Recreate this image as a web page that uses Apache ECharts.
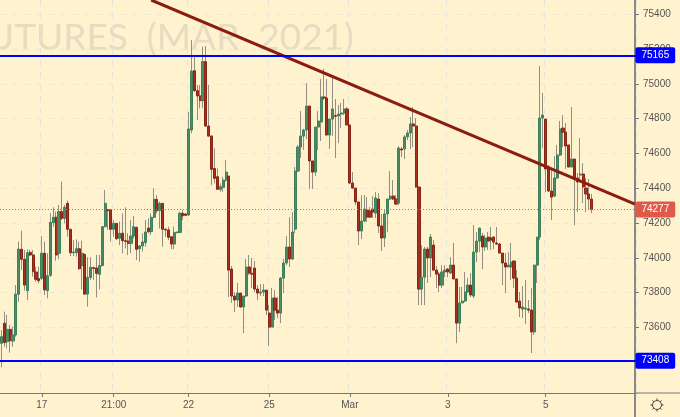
<!DOCTYPE html>
<html>
<head>
<meta charset="utf-8">
<style>html,body{margin:0;padding:0;background:#fff2cf}#c{width:680px;height:417px}</style>
<script src="https://cdn.jsdelivr.net/npm/echarts@6/dist/echarts.min.js"></script>
</head>
<body>
<div id="c"></div>
<script>
const opens = [73508,73623,73517,73588,73521,73556,73790,74049,73991,73811,74031,74016,73918,73880,73882,74026,73811,73899,74202,74233,74026,74265,74227,74313,74164,74029,74029,74052,73955,74020,73791,73887,73943,73941,73905,73955,74179,74277,74275,74164,74198,74112,74141,74098,74096,74083,74125,74175,74052,74068,74087,74171,74150,74233,74336,74271,74313,74164,74160,74121,74079,74144,74146,74256,74252,74246,74735,75076,74961,74931,74904,75128,74758,74700,74514,74466,74394,74405,74447,74470,73935,73780,73757,73797,73717,73780,73947,73910,73941,73820,73797,73803,73814,73682,73601,73768,73699,73682,73883,73970,74062,73993,74165,74499,74637,74700,74735,74873,74557,74493,74752,74781,74925,74919,74706,74798,74818,74816,74827,74833,74856,74764,74430,74401,74321,74154,74211,74275,74269,74280,74257,74338,74183,74114,74252,74338,74355,74338,74315,74626,74626,74695,74718,74770,74758,74407,73820,73889,74050,73999,74073,73929,73906,73843,73918,73935,73912,73958,73878,73624,73740,73751,73803,73843,73780,74033,74096,74125,74062,74119,74114,74119,74085,74079,74027,73970,73947,73947,73981,73883,73751,73705,73705,73705,73699,73573,73958,74119,74804,74798,74522,74384,74355,74459,74591,74746,74723,74649,74522,74568,74459,74476,74482,74401,74367,74338];
const closes = [73546,73512,73588,73523,73556,73790,74050,73991,73843,74029,74016,73920,73876,73868,74026,73815,73897,74204,74233,74016,74265,74227,74290,74164,74029,74033,74052,73937,74026,73791,73887,73945,73939,73910,73955,74179,74313,74271,74164,74198,74110,74141,74098,74094,74083,74125,74179,74049,74068,74091,74148,74150,74233,74336,74271,74313,74164,74160,74118,74079,74146,74148,74256,74242,74244,74741,75074,74961,74931,74904,75128,74758,74700,74509,74457,74394,74409,74447,74493,73929,73780,73757,73797,73717,73780,73947,73912,73906,73820,73797,73803,73814,73699,73601,73768,73699,73682,73883,73970,74062,73993,74148,74499,74637,74700,74735,74873,74557,74493,74752,74787,74925,74919,74706,74798,74856,74814,74827,74833,74856,74764,74430,74401,74321,74154,74211,74280,74234,74234,74263,74344,74183,74114,74252,74338,74355,74338,74309,74631,74620,74695,74718,74770,74758,74407,73820,73889,74050,73999,74119,73929,73906,73843,73918,73929,73918,73958,73878,73624,73740,73751,73803,73843,73786,74033,74096,74171,74062,74114,74096,74102,74090,74079,74027,73970,73947,73958,73975,73883,73745,73711,73717,73711,73699,73573,73958,74119,74804,74821,74511,74384,74349,74459,74591,74741,74723,74643,74522,74568,74453,74436,74482,74407,74367,74338,74277];
const lows = [73370,73488,73479,73454,73488,73546,73747,73930,73811,73757,74010,73891,73862,73853,73872,73786,73767,73891,74179,73983,73991,74217,74198,74121,74010,74010,74006,73930,73818,73786,73719,73872,73872,73772,73818,73949,74175,74160,74093,74121,74102,74073,74026,74054,74016,74026,74112,73987,73978,74035,74064,74141,74131,74227,74256,74169,74064,74121,74102,74049,74049,74141,74141,74217,74240,74240,74716,74955,74793,74860,74860,74754,74697,74419,74428,74390,74380,74380,74438,73774,73740,73688,73717,73711,73567,73774,73901,73826,73803,73757,73780,73780,73670,73492,73601,73642,73653,73624,73797,73958,73947,73987,74142,74493,74574,74620,74683,74396,74396,74470,74620,74672,74908,74706,74626,74700,74574,74660,74746,74821,74764,74425,74396,74303,74073,74108,74206,74206,74234,74229,74229,74142,74039,74062,74148,74332,74332,74303,74303,74580,74568,74677,74626,74637,74401,73728,73728,73728,73855,73889,73929,73826,73803,73826,73889,73889,73912,73878,73509,73573,73740,73745,73797,73774,73768,73975,74033,73935,74039,74044,74044,74050,74073,74027,73843,73797,73947,73872,73826,73745,73659,73653,73619,73682,73452,73556,73855,74102,74631,74378,74378,74217,74349,74453,74585,74637,74511,74522,74522,74188,74263,74436,74315,74263,74280,74257];
const highs = [73584,73690,73671,73613,73604,73843,74093,74156,74045,74049,74045,74045,73949,73949,74125,74093,74026,74256,74290,74265,74304,74438,74304,74329,74164,74102,74106,74093,74098,74020,74003,74003,73949,74016,74016,74179,74390,74279,74275,74217,74198,74208,74256,74290,74141,74217,74240,74179,74073,74141,74217,74227,74256,74400,74361,74323,74313,74169,74179,74121,74179,74150,74265,74275,74256,74839,75253,75163,74994,74994,75215,75218,74994,74706,74630,74514,74428,74466,74562,74470,73952,73803,73855,73797,73780,73993,74016,73999,73981,73843,73849,73849,73814,73728,73826,73814,73774,73889,73993,74125,74234,74263,74522,74649,74844,74741,75005,74873,74557,74752,74844,75028,75086,75028,74798,75046,74913,74879,74890,74913,74867,74764,74493,74401,74321,74361,74361,74349,74292,74355,74378,74372,74252,74275,74338,74499,74447,74361,74643,74637,74706,74735,74810,74867,74804,74407,74073,74062,74062,74137,74102,73952,73918,73958,73958,73941,74004,74085,73878,73832,73832,73918,73883,73912,74188,74148,74171,74142,74131,74148,74177,74125,74177,74085,74027,74027,74033,74085,73987,73929,73803,73837,73872,73757,73826,73958,74119,75103,74948,74798,74534,74511,74585,74649,74787,74821,74775,74649,74867,74568,74488,74689,74545,74459,74453,74367];

const tickSlots = [14,39,65,93,121,155,189];
const tickLabels = ['17','21:00','22','25','Mar','3','5'];
const priceTicks = [73600,73800,74000,74200,74400,74600,74800,75000,75200,75400];
const levelPrices = [75165,73408];
const lastPrice = [74277];
const trendPrices = [75483,74309];
const trendSlots = [52,220];
const slotCount = 221;
const watermark = 'FUTURES  (MAR  2021)';

const categories = [];
for (let i = 0; i < slotCount; i++) {
  const t = tickSlots.indexOf(i);
  categories.push(t >= 0 ? tickLabels[t] : 'b' + i);
}
const isTick = i => tickSlots.indexOf(i) >= 0;
const n = closes.length;
const wicks = [], bodies = [];
for (let i = 0; i < n; i++) {
  wicks.push([opens[i], closes[i], lows[i], highs[i]]);
  bodies.push([opens[i], closes[i], Math.min(opens[i], closes[i]), Math.max(opens[i], closes[i])]);
}
const font = '"Liberation Sans", Arial, sans-serif';
const wickGrey = 'rgba(90,90,90,0.66)';
const blueLabel = v => ({
  show: true, position: 'end', distance: -1, formatter: String(v),
  color: '#fff', backgroundColor: '#0000ff', fontFamily: font, fontSize: 10,
  padding: [3, 6, 3, 6], borderRadius: 2
});
const gearLine = (x1, y1, x2, y2) => ({type: 'line', z: 10, silent: true, shape: {x1, y1, x2, y2}, style: {stroke: '#444', lineWidth: 1}});
const chart = echarts.init(document.getElementById('c'), null, {renderer: 'canvas'});
chart.setOption({
  animation: false,
  backgroundColor: '#fff2cf',
  grid: {left: -1.2, top: 0, width: 637.6, height: 393, containLabel: false},
  xAxis: {
    type: 'category', data: categories, boundaryGap: true,
    axisLine: {lineStyle: {color: '#787878', width: 1}},
    axisTick: {show: true, alignWithLabel: true, length: 4, interval: isTick, lineStyle: {color: '#787878'}},
    axisLabel: {interval: isTick, color: '#555', fontFamily: font, fontSize: 10, margin: 7},
    splitLine: {show: true, interval: isTick, lineStyle: {color: '#e4e6dc', type: [6, 6], width: 1}}
  },
  yAxis: {
    type: 'value', position: 'right', offset: -1.4, min: 73222, max: 75483, scale: true,
    axisLine: {show: true, lineStyle: {color: '#8a8a82', width: 2}},
    axisTick: {show: true, length: 4, customValues: priceTicks, lineStyle: {color: '#787878'}},
    axisLabel: {customValues: priceTicks, formatter: v => String(v), color: '#555', fontFamily: font, fontSize: 10, margin: 8},
    splitLine: {show: true, lineStyle: {color: '#f0e8d2', type: [6, 6], width: 1}}
  },
  graphic: [
    {type: 'text', z: -1, silent: true, style: {text: watermark, x: 354, y: 38, textAlign: 'right', textVerticalAlign: 'middle', fontFamily: 'Lato, sans-serif', fontSize: 37, fill: '#e6dcc0'}},
    {type: 'line', z: 10, silent: true, shape: {x1: 635, y1: 393, x2: 635, y2: 417}, style: {stroke: '#8a8a82', lineWidth: 2}},
    {type: 'line', z: 10, silent: true, shape: {x1: 635, y1: 393, x2: 680, y2: 393}, style: {stroke: '#787878', lineWidth: 1}},
    {type: 'circle', z: 10, silent: true, shape: {cx: 657, cy: 405, r: 4.5}, style: {stroke: '#444', fill: 'none', lineWidth: 1}},
    gearLine(657, 398.5, 657, 400.5), gearLine(657, 409.5, 657, 411.5),
    gearLine(650.5, 405, 652.5, 405), gearLine(661.5, 405, 663.5, 405),
    gearLine(652.4, 400.4, 653.8, 401.8), gearLine(660.2, 408.2, 661.6, 409.6),
    gearLine(661.6, 400.4, 660.2, 401.8), gearLine(653.8, 408.2, 652.4, 409.6)
  ],
  series: [
    {type: 'candlestick', barWidth: 1, z: 2, silent: true,
      itemStyle: {color: wickGrey, color0: wickGrey, borderColor: wickGrey, borderColor0: wickGrey, borderWidth: 1},
      data: wicks},
    {type: 'candlestick', barWidth: 2.6, z: 3, silent: true,
      itemStyle: {color: '#4b8c66', color0: '#a6301f', borderColor: '#3f7f5a', borderColor0: '#8a2415', borderWidth: 1},
      data: bodies,
      markLine: {silent: true, symbol: 'none', animation: false,
        data: [
          {yAxis: levelPrices[0], lineStyle: {color: '#0000ff', width: 2, type: 'solid'}, label: blueLabel(levelPrices[0])},
          {yAxis: levelPrices[1], lineStyle: {color: '#0000ff', width: 2, type: 'solid'}, label: blueLabel(levelPrices[1])},
          {yAxis: lastPrice[0], lineStyle: {color: '#f0604a', width: 1, type: [1, 2]},
            label: Object.assign(blueLabel(lastPrice[0]), {backgroundColor: '#df5a48'})}
        ]}
    },
    {type: 'line', z: 4, silent: true, symbol: 'none', lineStyle: {color: '#8b1d0f', width: 3},
      data: [[trendSlots[0], trendPrices[0]], [trendSlots[1], trendPrices[1]]]}
  ]
});
</script>
</body>
</html>
